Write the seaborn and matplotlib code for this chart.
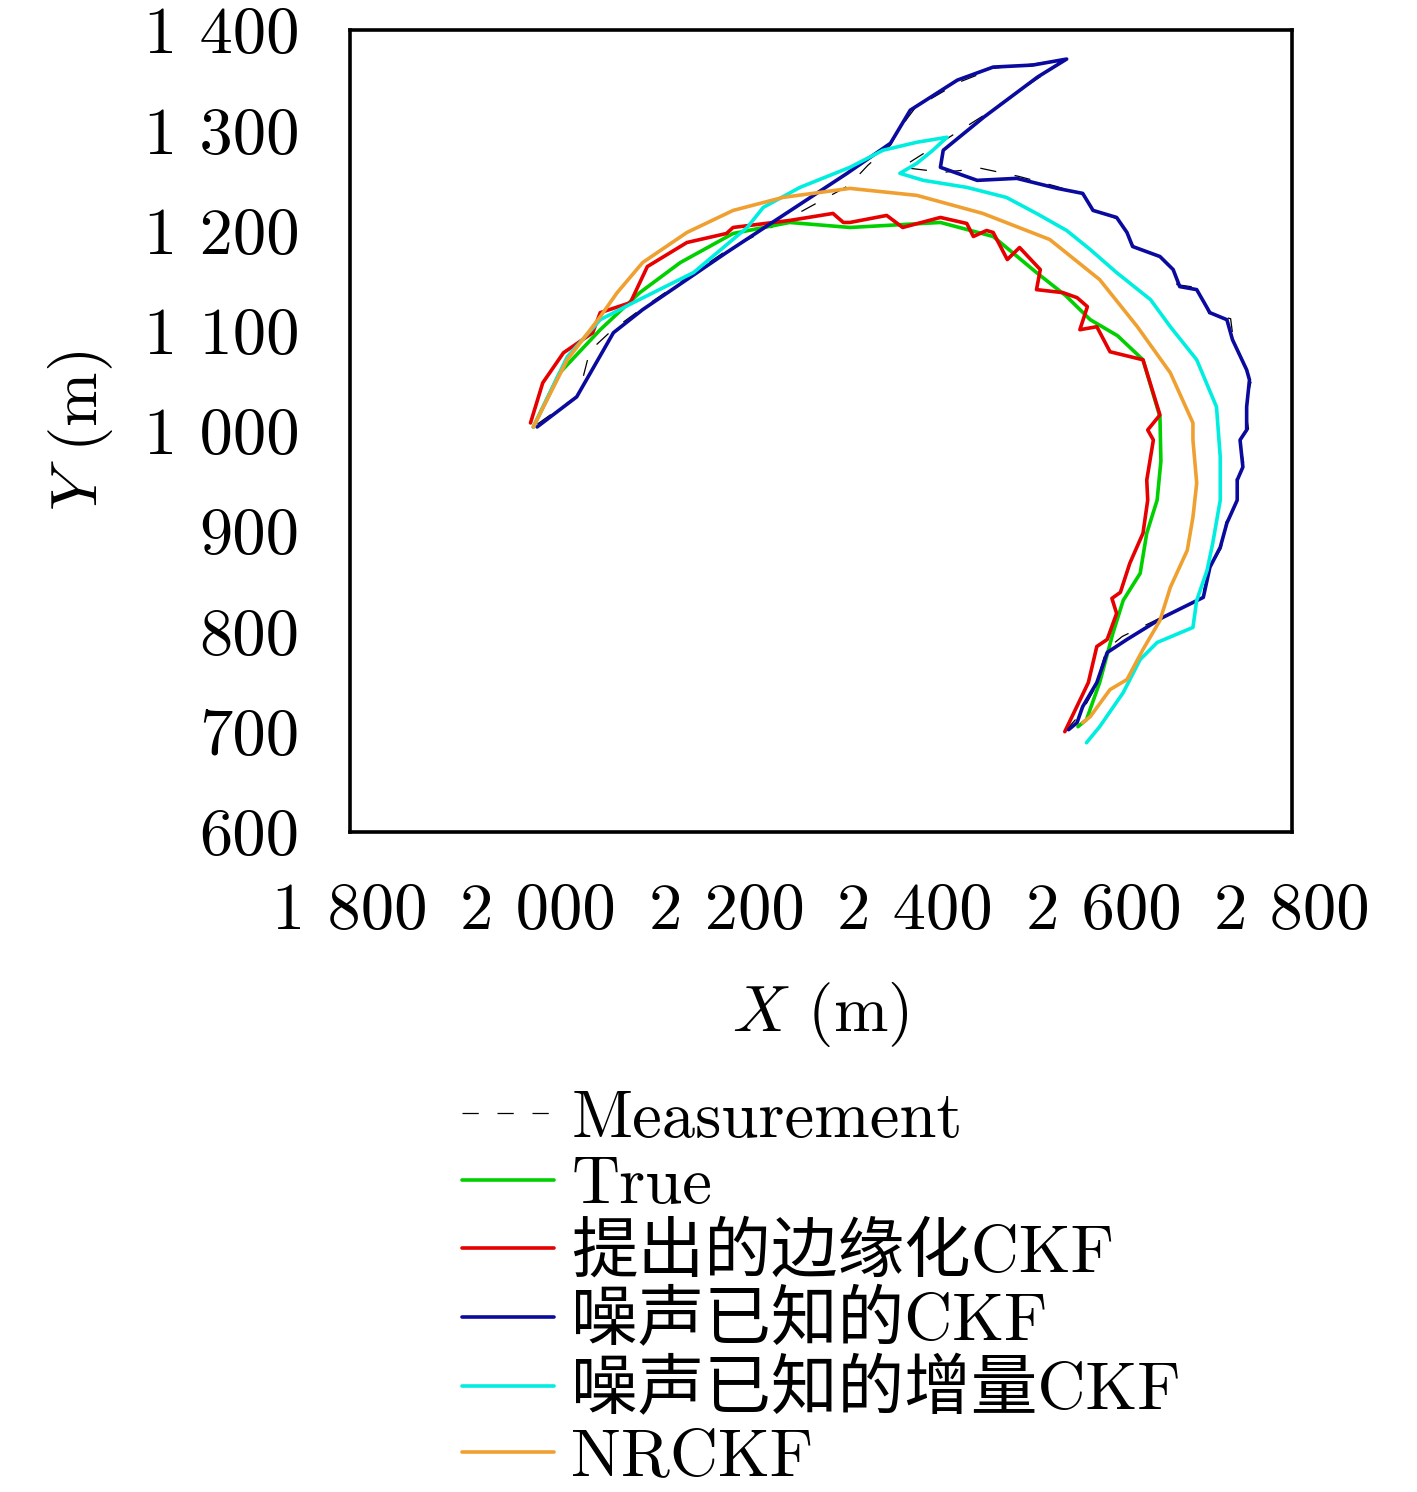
import matplotlib
matplotlib.use('Agg')
import matplotlib.pyplot as plt
import seaborn as sns

# trajectories (m), from the lower end to the upper-left end
meas_x = [2559, 2576, 2592, 2603, 2620, 2655, 2704, 2712, 2725, 2730, 2744, 2741, 2750, 2744, 2754,
          2750, 2757, 2750, 2738, 2735, 2712, 2700, 2678, 2676, 2658, 2633, 2622, 2616, 2587, 2580,
          2550, 2510, 2470, 2430, 2386, 2470, 2545, 2561, 2525, 2485, 2447, 2400, 2392, 2380, 2374,
          2350, 2330, 2268, 2200, 2110, 2078, 2055, 2043, 2040, 2022, 1995]
meas_y = [700, 718, 745, 782, 795, 811, 832, 862, 883, 909, 930, 952, 963, 992, 1002,
          1025, 1050, 1063, 1090, 1112, 1117, 1143, 1146, 1160, 1176, 1183, 1200, 1211, 1222, 1235,
          1244, 1254, 1262, 1258, 1263, 1313, 1361, 1371, 1366, 1362, 1348, 1322, 1312, 1296, 1285,
          1265, 1245, 1213, 1180, 1122, 1100, 1080, 1036, 1034, 1022, 1004]

true_x = [2573, 2582, 2596, 2610, 2621, 2639, 2646, 2657, 2661, 2660, 2642, 2615, 2586, 2560, 2529,
          2483, 2427, 2331, 2267, 2207, 2151, 2108, 2066, 2023, 1995]
true_y = [705, 712, 749, 798, 831, 858, 898, 931, 970, 1014, 1071, 1095, 1111, 1135, 1158,
          1194, 1208, 1203, 1208, 1197, 1168, 1138, 1101, 1058, 1004]

prop_x = [2559, 2584, 2593, 2604, 2614, 2609, 2618, 2628, 2642, 2647, 2646, 2653, 2647, 2660, 2642,
          2607, 2593, 2575, 2583, 2572, 2557, 2529, 2533, 2511, 2498, 2483, 2476, 2462, 2455, 2427,
          2387, 2370, 2331, 2324, 2313, 2267, 2207, 2200, 2158, 2116, 2098, 2066, 2058, 2027, 2005, 1992]
prop_y = [700, 749, 785, 792, 818, 833, 839, 868, 898, 931, 951, 991, 1001, 1016, 1071,
          1079, 1104, 1101, 1124, 1133, 1138, 1141, 1161, 1183, 1171, 1198, 1200, 1194, 1207, 1213,
          1203, 1215, 1208, 1208, 1217, 1210, 1203, 1197, 1188, 1164, 1128, 1118, 1098, 1078, 1048, 1008]

ckf_x = [2563, 2572, 2578, 2593, 2604, 2625, 2663, 2706, 2713, 2724, 2731, 2742, 2742, 2748, 2745,
         2752, 2752, 2755, 2752, 2737, 2731, 2713, 2699, 2681, 2674, 2660, 2631, 2625, 2614, 2589,
         2578, 2551, 2508, 2466, 2427, 2430, 2473, 2530, 2561, 2525, 2483, 2445, 2395, 2374, 2328,
         2200, 2111, 2080, 2041, 1999]
ckf_y = [702, 709, 725, 749, 779, 792, 814, 834, 864, 884, 908, 931, 951, 964, 991,
         1001, 1024, 1051, 1061, 1091, 1111, 1118, 1141, 1144, 1161, 1174, 1184, 1198, 1213, 1220,
         1237, 1242, 1252, 1250, 1263, 1280, 1313, 1353, 1371, 1365, 1363, 1350, 1320, 1287, 1257,
         1178, 1121, 1098, 1034, 1004]

inc_x = [2582, 2596, 2621, 2639, 2657, 2695, 2699, 2710, 2716, 2724, 2724, 2720, 2699, 2671, 2650,
         2614, 2586, 2561, 2529, 2497, 2455, 2409, 2384, 2402, 2419, 2434, 2402, 2366, 2331, 2278,
         2239, 2222, 2165, 2101, 2066, 2031, 1995]
inc_y = [689, 705, 739, 772, 789, 804, 831, 861, 888, 931, 974, 1024, 1071, 1104, 1131,
         1158, 1181, 1200, 1217, 1233, 1243, 1250, 1257, 1267, 1280, 1293, 1288, 1280, 1263, 1243,
         1223, 1203, 1158, 1128, 1111, 1074, 1004]

nr_x = [2578, 2586, 2607, 2625, 2642, 2660, 2671, 2689, 2695, 2699, 2695, 2695, 2671, 2636, 2596,
        2543, 2472, 2402, 2331, 2260, 2207, 2158, 2111, 2084, 2066, 2031, 1995]
nr_y = [709, 715, 742, 752, 782, 811, 844, 881, 914, 948, 991, 1008, 1058, 1104, 1151,
        1191, 1217, 1235, 1242, 1233, 1220, 1198, 1168, 1138, 1114, 1071, 1004]

labels = ['Measurement', 'True', '提出的边缘化CKF', '噪声已知的CKF', '噪声已知的增量CKF', 'NRCKF']
colors = ['black', '#00d000', '#e60000', '#0a0a9e', '#00eee0', '#f0a030']

sns.set_theme(style='white')
plt.rcParams['font.family'] = ['cmr10', 'Noto Sans CJK SC']
plt.rcParams['mathtext.fontset'] = 'cm'
plt.rcParams['axes.unicode_minus'] = False
plt.rcParams['text.color'] = 'black'
plt.rcParams['axes.labelcolor'] = 'black'
plt.rcParams['xtick.color'] = 'black'
plt.rcParams['ytick.color'] = 'black'

fig = plt.figure(figsize=(14.17, 14.92), dpi=100)
ax = fig.add_axes([0.2467, 0.4424, 0.665, 0.5375])

tracks = [(meas_x, meas_y), (true_x, true_y), (prop_x, prop_y),
          (ckf_x, ckf_y), (inc_x, inc_y), (nr_x, nr_y)]
for i, (xs, ys) in enumerate(tracks):
    if i == 0:
        sns.lineplot(x=xs, y=ys, sort=False, estimator=None, color=colors[i],
                     lw=0.9, linestyle=(0, (13, 15)), label=labels[i], ax=ax)
    else:
        sns.lineplot(x=xs, y=ys, sort=False, estimator=None, color=colors[i],
                     lw=2.6, label=labels[i], ax=ax)

ax.set_xlim(1800, 2800)
ax.set_ylim(600, 1400)
xt = list(range(1800, 2801, 200))
yt = list(range(600, 1401, 100))
ax.set_xticks(xt)
ax.set_xticklabels([f'{v:,}'.replace(',', ' ') for v in xt])
ax.set_yticks(yt)
ax.set_yticklabels([f'{v:,}'.replace(',', ' ') for v in yt])
ax.tick_params(direction='in', length=6, width=2, labelsize=48, color='black', labelcolor='black')
ax.tick_params(axis='x', pad=36)
ax.tick_params(axis='y', pad=36)
for s in ax.spines.values():
    s.set_color('black')
    s.set_linewidth(2.6)

ax.set_xlabel(r'$X$ (m)', fontsize=47, labelpad=28)
ax.set_ylabel(r'$Y$ (m)', fontsize=47, labelpad=21)

handles, labs = ax.get_legend_handles_labels()
ax.get_legend().remove()
fig.legend(handles, labs, loc='upper left', bbox_to_anchor=(462 / 1417, 1 - 1090 / 1492),
           frameon=False, fontsize=48, handlelength=1.38, handletextpad=0.26,
           labelspacing=0.10, borderpad=0, borderaxespad=0)

fig.savefig('out.png', dpi=100)
